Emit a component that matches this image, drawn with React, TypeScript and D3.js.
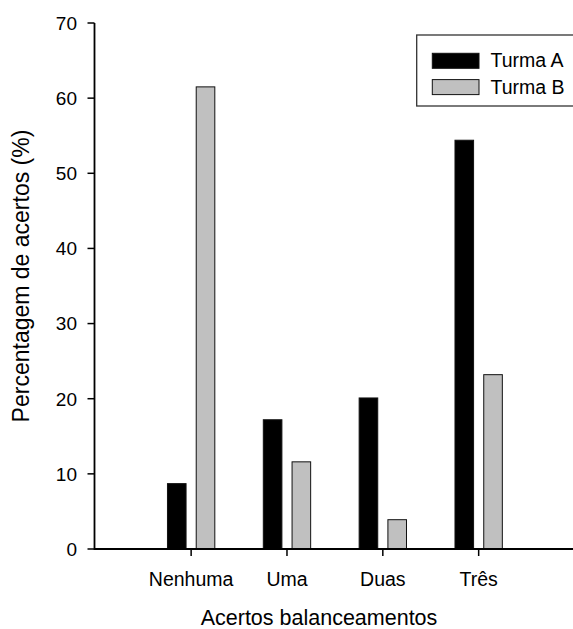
import React from "react";
import * as d3 from "d3";

const categories = ["Nenhuma", "Uma", "Duas", "Três"];
const turmaA = [8.7, 17.2, 20.1, 54.4];
const turmaB = [61.5, 11.6, 3.9, 23.2];
const yTickValues = [0, 10, 20, 30, 40, 50, 60, 70];
const seriesNames = ["Turma A", "Turma B"];
const xTitle = "Acertos balanceamentos";
const yTitle = "Percentagem de acertos (%)";

const W = 573;
const H = 629;
const FONT = "'Liberation Sans', Arial, sans-serif";

export default function App() {
  const x = d3.scaleLinear().domain([0, categories.length + 1]).range([95.3, 574.5]);
  const y = d3.scaleLinear().domain([0, 70]).range([549, 23]);
  const barW = x(0.194) - x(0);
  const off = 0.15;
  const fills = ["#000000", "#c0c0c0"];
  const series = [turmaA, turmaB];
  const axisX = x(0) - 0.8;

  return (
    <svg width={W} height={H} style={{ position: "absolute", left: 0, top: 0, background: "#fff" }}
      fontFamily={FONT}>
      <rect x={0} y={0} width={W} height={H} fill="#fff" />
      {series.map((vals, si) =>
        vals.map((v, i) => {
          const cx = x(i + 1) + (si === 0 ? -off : off) * (x(1) - x(0));
          return (
            <rect key={`${si}-${i}`} x={cx - barW / 2} y={y(v)} width={barW} height={y(0) - y(v)}
              fill={fills[si]} stroke="#111" strokeWidth={1} />
          );
        })
      )}
      <line x1={axisX} x2={axisX} y1={y(70)} y2={y(0) + 1} stroke="#000" strokeWidth={1.8} />
      {yTickValues.map((t) => (
        <g key={t}>
          <line x1={axisX - 7} x2={axisX} y1={y(t)} y2={y(t)} stroke="#000" strokeWidth={1.5} />
          <text x={77} y={y(t)} dy="0.36em" textAnchor="end" fontSize={19} fill="#000">{t}</text>
        </g>
      ))}
      <line x1={axisX} x2={W} y1={y(0)} y2={y(0)} stroke="#000" strokeWidth={1.8} />
      {categories.map((c, i) => (
        <g key={c}>
          <line x1={x(i + 1)} x2={x(i + 1)} y1={y(0)} y2={y(0) + 7} stroke="#000" strokeWidth={1.5} />
          <text x={x(i + 1)} y={585.5} textAnchor="middle" fontSize={19.5} fill="#000">{c}</text>
        </g>
      ))}
      <text x={319} y={625} textAnchor="middle" fontSize={21.5} fill="#000">{xTitle}</text>
      <text transform={`translate(29, 276) rotate(-90)`} textAnchor="middle" fontSize={23} fill="#000">{yTitle}</text>
      <rect x={416.7} y={35} width={200} height={71} fill="#fff" stroke="#333" strokeWidth={1.3} />
      {seriesNames.map((s, i) => (
        <g key={s}>
          <rect x={432.3} y={53.3 + i * 26.3} width={46.7} height={15} fill={fills[i]} stroke="#111" strokeWidth={1} />
          <text x={490.5} y={67.3 + i * 27} fontSize={19.5} fill="#000">{s}</text>
        </g>
      ))}
    </svg>
  );
}
